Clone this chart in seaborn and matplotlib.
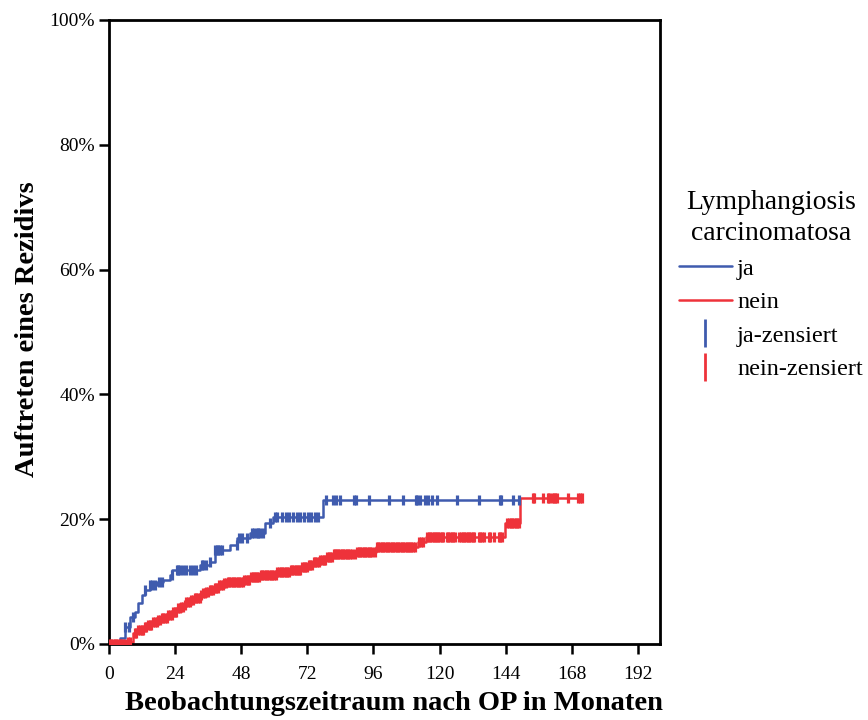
import numpy as np
import pandas as pd
import matplotlib
matplotlib.use("Agg")
import matplotlib.pyplot as plt
from matplotlib.lines import Line2D
import seaborn as sns

# ---------------- data (months, cumulative recurrence %) ----------------
ja_time = [0, 4, 5.8, 7.6, 9.4, 10.5, 12, 13, 14.9, 17.4, 19.6, 22, 22.9, 33, 36.7,
           38.5, 44, 46.5, 51.2, 56.6, 59.5, 77.7, 148.8]
ja_pct = [0, 1.0, 2.7, 4.3, 5.1, 6.6, 7.9, 8.7, 9.5, 10.0, 10.3, 11.1, 11.9, 12.7, 13.1,
          15.0, 15.9, 17.0, 17.8, 19.4, 20.4, 23.1, 23.1]
ja_censored = [5.8, 7.4, 8.8, 13.1, 14.9, 15.6, 16.7, 18.3, 19.1, 22.7, 24.6, 25.2, 25.8,
               27.0, 27.9, 29.4, 30.6, 31.6, 33.6, 34.3, 35.2, 36.7, 38.5, 39.1, 39.7,
               40.3, 40.9, 46.3, 47.3, 48.2, 50.0, 51.8, 52.6, 53.6, 54.2, 54.8, 55.8,
               58.4, 60.3, 61.1, 62.7, 64.2, 65.4, 66.9, 68.1, 69.3, 70.8, 72.3, 73.5,
               74.7, 75.9, 78.8, 81.4, 82.3, 83.8, 88.9, 89.7, 94.4, 101.5, 106.6, 111.3,
               111.8, 113.0, 114.6, 115.8, 117.4, 118.9, 126.2, 134.3, 141.9, 142.3,
               146.8, 148.8]

nein_time = [0, 6, 8.8, 10.5, 12.5, 14, 16, 17.5, 19, 21, 23, 24.6, 26, 27, 28, 29.5, 31,
             33, 34, 35, 36.5, 37.8, 40, 41.5, 42.8, 48.6, 51, 54.8, 61, 65.7, 70, 72,
             74, 76.6, 79, 81, 90, 97, 112, 115, 143.7, 149.2, 171.7]
nein_pct = [0, 0.4, 1.8, 2.2, 2.7, 3.1, 3.5, 3.8, 4.1, 4.6, 5.2, 5.8, 6.0, 6.3, 6.7,
            7.0, 7.3, 7.9, 8.1, 8.4, 8.7, 9.0, 9.5, 9.7, 10.0, 10.3, 10.7, 11.1, 11.5,
            11.9, 12.3, 12.7, 13.1, 13.5, 14.0, 14.5, 14.8, 15.5, 16.3, 17.1, 19.4,
            23.4, 23.4]
nein_censored = [0.3, 0.9, 1.5, 2.1, 2.7, 3.3, 3.9, 4.5, 5.1, 5.7, 7.0, 7.6, 9.3, 9.9,
                 10.6, 11.2, 11.8, 12.4, 13.0, 13.6, 14.2, 14.8, 15.4, 16.1, 16.7, 17.3,
                 17.9, 18.5, 19.1, 19.7, 20.3, 20.9, 21.5, 22.1, 22.7, 23.3, 23.9, 24.5,
                 25.1, 25.7, 26.3, 26.9, 27.5, 28.1, 28.7, 29.3, 29.9, 30.5, 31.1, 31.7,
                 32.3, 32.9, 33.5, 34.1, 34.7, 35.3, 35.9, 36.5, 37.1, 37.7, 38.3, 38.9,
                 39.5, 40.1, 40.7, 41.3, 41.9, 42.5, 43.1, 43.7, 44.3, 44.9, 45.5, 46.1,
                 46.7, 47.3, 47.9, 48.5, 49.1, 49.7, 50.3, 50.9, 51.5, 52.1, 52.7, 53.3,
                 53.9, 54.5, 55.1, 55.7, 56.3, 56.9, 57.5, 58.1, 58.7, 59.3, 59.9, 60.5,
                 61.1, 61.7, 62.3, 62.9, 63.5, 64.1, 64.7, 65.3, 65.9, 66.5, 67.1, 67.7,
                 68.3, 68.9, 69.5, 70.1, 70.7, 71.3, 71.9, 72.5, 73.1, 73.7, 74.3, 74.9,
                 75.5, 76.1, 76.7, 77.3, 77.9, 78.5, 79.1, 79.7, 80.3, 80.9, 81.5, 82.1,
                 82.7, 83.3, 83.9, 84.5, 85.1, 85.7, 86.3, 86.9, 87.5, 88.1, 89.4, 90.0,
                 90.6, 91.2, 91.8, 92.4, 93.0, 93.6, 94.2, 94.8, 95.4, 96.6, 97.2, 97.8,
                 98.4, 99.0, 99.6, 100.2, 100.8, 101.4, 102.0, 102.6, 103.2, 103.8, 104.4,
                 105.0, 105.6, 106.2, 106.8, 107.4, 108.0, 108.6, 109.2, 109.8, 110.4,
                 111.0, 112.6, 113.2, 113.8, 115.4, 116.0, 116.6, 117.2, 117.8, 118.4,
                 119.0, 119.6, 120.2, 120.8, 121.4, 122.6, 123.2, 123.8, 124.4, 125.0,
                 125.6, 127.2, 127.8, 128.4, 129.0, 129.6, 130.2, 130.8, 131.4, 132.0,
                 132.6, 134.2, 134.8, 135.4, 136.0, 137.8, 138.4, 139.6, 141.4, 142.0,
                 142.6, 144.6, 145.2, 145.8, 146.4, 147.0, 147.6, 148.2, 148.8, 153.9,
                 154.4, 157.5, 159.3, 159.8, 160.8, 161.4, 161.9, 162.6, 166.6, 170.2,
                 170.8, 171.7]

x_ticks = [0, 24, 48, 72, 96, 120, 144, 168, 192]
y_ticks = [0, 20, 40, 60, 80, 100]
y_ticklabels = ["0%", "20%", "40%", "60%", "80%", "100%"]

BLUE = "#3F5BAE"
RED = "#EE323A"

# ---------------- styling ----------------
sns.set_style("ticks")
plt.rcParams["font.family"] = ["Liberation Serif", "DejaVu Serif"]
plt.rcParams["text.color"] = "black"
plt.rcParams["axes.labelcolor"] = "black"

fig = plt.figure(figsize=(8.68, 7.2), dpi=100)
ax = fig.add_axes([109 / 868, 76 / 720, (660 - 109) / 868, (644 - 20) / 720])


def step_value(times, pcts, t):
    idx = np.searchsorted(np.asarray(times), t, side="right") - 1
    return np.asarray(pcts)[idx]


groups = [("ja", ja_time, ja_pct, ja_censored, BLUE),
          ("nein", nein_time, nein_pct, nein_censored, RED)]

for name, t, p, cens, col in groups:
    df = pd.DataFrame({"t": t, "p": p})
    sns.lineplot(data=df, x="t", y="p", drawstyle="steps-post", color=col,
                 linewidth=1.8, estimator=None, ax=ax)
    dc = pd.DataFrame({"t": cens, "p": step_value(t, p, np.asarray(cens))})
    sns.scatterplot(data=dc, x="t", y="p", marker="|", s=62, linewidth=2.3,
                    color=col, ax=ax, zorder=3)

ax.set_xlim(0, 200)
ax.set_ylim(0, 100)
ax.set_xticks(x_ticks)
ax.set_yticks(y_ticks)
ax.set_yticklabels(y_ticklabels)
ax.tick_params(axis="both", labelsize=14, length=7, width=1.8, color="black",
               labelcolor="black")
ax.tick_params(axis="x", pad=9)
ax.tick_params(axis="y", pad=3)
for s in ax.spines.values():
    s.set_visible(True)
    s.set_linewidth(2.0)
    s.set_color("black")

ax.set_xlabel("Beobachtungszeitraum nach OP in Monaten", fontsize=20.5,
              fontweight="bold")
ax.set_ylabel("Auftreten eines Rezidivs", fontsize=20.5, fontweight="bold")
ax.xaxis.set_label_coords((394 - 109) / 551, -(703 - 644) / 624, transform=ax.transAxes)
ax.yaxis.set_label_coords(-(109 - 27) / 551, (644 - 329) / 624, transform=ax.transAxes)
ax.xaxis.label.set_va("center")
ax.yaxis.label.set_va("center")

handles = [Line2D([], [], color=BLUE, lw=1.8),
           Line2D([], [], color=RED, lw=1.8),
           Line2D([], [], color=BLUE, marker="|", linestyle="none",
                  markersize=20, markeredgewidth=2.0),
           Line2D([], [], color=RED, marker="|", linestyle="none",
                  markersize=20, markeredgewidth=2.0)]
labels = ["ja", "nein", "ja-zensiert", "nein-zensiert"]
leg = fig.legend(handles, labels, title="Lymphangiosis\ncarcinomatosa",
                 loc="upper left", bbox_to_anchor=(675 / 868, 1 - 186 / 720),
                 frameon=False, fontsize=17.5, title_fontsize=20,
                 handlelength=2.2, handletextpad=0.2, labelspacing=0.47,
                 borderpad=0.15, borderaxespad=0)
leg.get_title().set_multialignment("center")
leg.get_title().set_linespacing(1.35)

fig.savefig("out.png", dpi=100, facecolor="white")
